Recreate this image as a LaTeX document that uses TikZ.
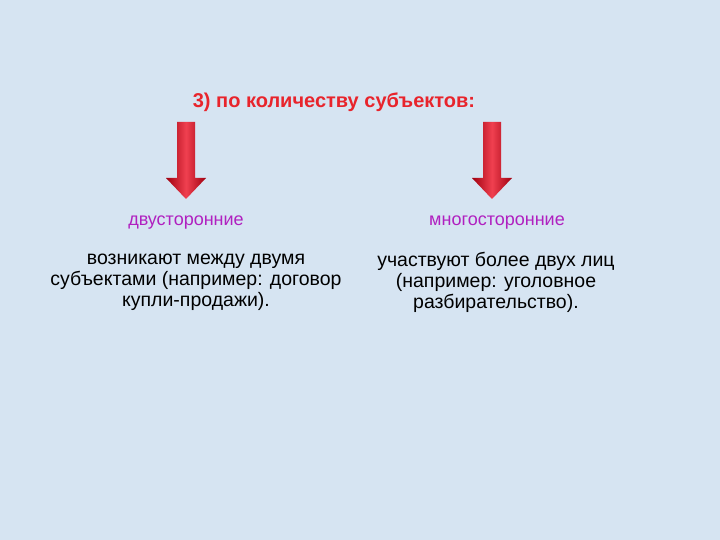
\documentclass[tikz,border=0pt]{standalone}
\usepackage{fontspec}
\setmainfont{Liberation Sans}
\definecolor{bg}{HTML}{D6E4F2}
\definecolor{ttl}{HTML}{E8242C}
\definecolor{arrD}{HTML}{A00010}
\definecolor{arrL}{HTML}{F04050}
\definecolor{pur}{HTML}{B020C0}
\begin{document}
\begin{tikzpicture}[x=1pt,y=-1pt,
  kind/.style={text=pur,font=\fontsize{18}{21}\selectfont},
  body/.style={align=center,font=\fontsize{19.5}{21}\selectfont}]
\fill[bg] (0,0) rectangle (720,540);
\useasboundingbox (0,0) rectangle (720,540);
\node[text=ttl,font=\bfseries\fontsize{20}{23}\selectfont] (title) at (334,102) {3) по количеству субъектов:};
\foreach \cx/\nm in {186/la,492/ra}{
  \shade[left color=arrD,right color=arrD,middle color=arrL] (\cx-9,122) -- (\cx+9,122) -- (\cx+9,178) -- (\cx+20,178) -- (\cx,199) -- (\cx-20,178) -- (\cx-9,178) -- cycle;
  \coordinate (\nm) at (\cx,199);
}
\node[kind] (k1) at (186,223) {двусторонние};
\node[kind] (k2) at (497,223) {многосторонние};
\node[body] (b1) at (196,282) {возникают между двумя\\субъектами (например: договор\\купли-продажи).};
\node[body] (b2) at (496,282) {участвуют более двух лиц\\(например: уголовное\\разбирательство).};
\end{tikzpicture}
\end{document}
